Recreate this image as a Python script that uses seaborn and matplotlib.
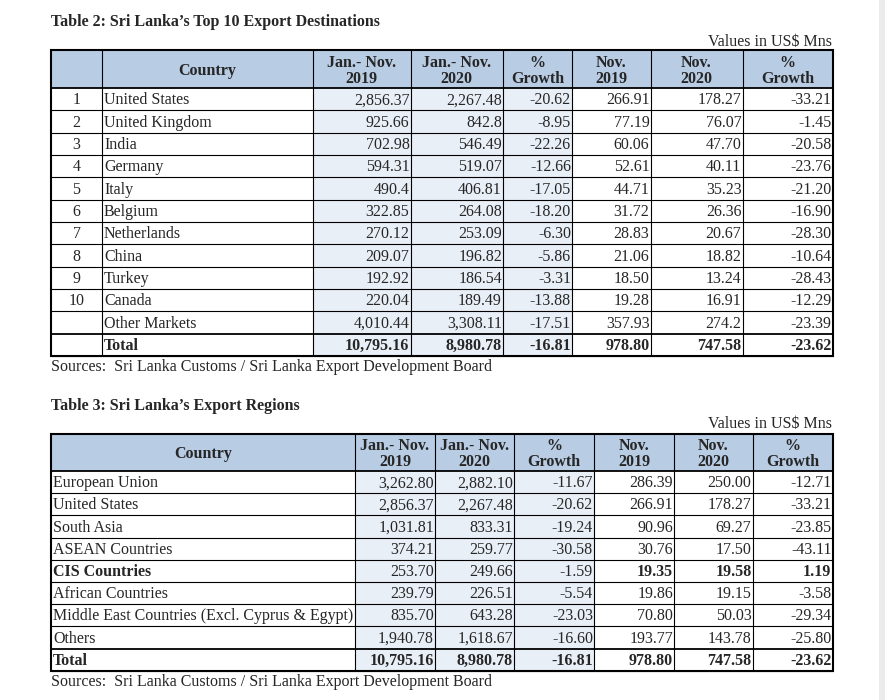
import matplotlib
matplotlib.use("Agg")
import matplotlib.pyplot as plt
from matplotlib.patches import Rectangle
import seaborn as sns

sns.set_theme(style="white")
plt.rcParams['font.family'] = ['Liberation Serif', 'DejaVu Serif']

# ---- Table 2 data
t2_title = "Table 2: Sri Lanka\u2019s Top 10 Export Destinations"
t2_header = ['', 'Country', 'Jan.- Nov.\n2019', 'Jan.- Nov.\n2020', '%\nGrowth',
             'Nov.\n2019', 'Nov.\n2020', '%\nGrowth']
ranks = ['1', '2', '3', '4', '5', '6', '7', '8', '9', '10', '', '']
countries = ['United States', 'United Kingdom', 'India', 'Germany', 'Italy', 'Belgium',
             'Netherlands', 'China', 'Turkey', 'Canada', 'Other Markets', 'Total']
jn19 = ['2,856.37', '925.66', '702.98', '594.31', '490.4', '322.85', '270.12', '209.07',
        '192.92', '220.04', '4,010.44', '10,795.16']
jn20 = ['2,267.48', '842.8', '546.49', '519.07', '406.81', '264.08', '253.09', '196.82',
        '186.54', '189.49', '3,308.11', '8,980.78']
jn_growth = ['-20.62', '-8.95', '-22.26', '-12.66', '-17.05', '-18.20', '-6.30', '-5.86',
             '-3.31', '-13.88', '-17.51', '-16.81']
nov19 = ['266.91', '77.19', '60.06', '52.61', '44.71', '31.72', '28.83', '21.06',
         '18.50', '19.28', '357.93', '978.80']
nov20 = ['178.27', '76.07', '47.70', '40.11', '35.23', '26.36', '20.67', '18.82',
         '13.24', '16.91', '274.2', '747.58']
nov_growth = ['-33.21', '-1.45', '-20.58', '-23.76', '-21.20', '-16.90', '-28.30', '-10.64',
              '-28.43', '-12.29', '-23.39', '-23.62']

# ---- Table 3 data
t3_title = "Table 3: Sri Lanka\u2019s Export Regions"
t3_header = ['Country', 'Jan.- Nov.\n2019', 'Jan.- Nov.\n2020', '%\nGrowth',
             'Nov.\n2019', 'Nov.\n2020', '%\nGrowth']
regions = ['European Union', 'United States', 'South Asia', 'ASEAN Countries', 'CIS Countries',
           'African Countries', 'Middle East Countries (Excl. Cyprus & Egypt)', 'Others', 'Total']
r_jn19 = ['3,262.80', '2,856.37', '1,031.81', '374.21', '253.70', '239.79', '835.70',
          '1,940.78', '10,795.16']
r_jn20 = ['2,882.10', '2,267.48', '833.31', '259.77', '249.66', '226.51', '643.28',
          '1,618.67', '8,980.78']
r_jn_growth = ['-11.67', '-20.62', '-19.24', '-30.58', '-1.59', '-5.54', '-23.03', '-16.60', '-16.81']
r_nov19 = ['286.39', '266.91', '90.96', '30.76', '19.35', '19.86', '70.80', '193.77', '978.80']
r_nov20 = ['250.00', '178.27', '69.27', '17.50', '19.58', '19.15', '50.03', '143.78', '747.58']
r_nov_growth = ['-12.71', '-33.21', '-23.85', '-43.11', '1.19', '-3.58', '-29.34', '-25.80', '-23.62']

unit_note = "Values in US$ Mns"
source_note = "Sources:  Sri Lanka Customs / Sri Lanka Export Development Board"

HEAD_BLUE = '#b8cce4'
LIGHT_BLUE = '#e9eff7'
FS = 11.5


def draw_table(ax, top, head_h, row_h, edges, header, cols, aligns, shaded, bold):
    n = len(cols[0])
    bottom = top + head_h + n * row_h
    left, right = edges[0], edges[-1]
    ax.add_patch(Rectangle((left, top), right - left, head_h, color=HEAD_BLUE, lw=0))
    for c in shaded:
        ax.add_patch(Rectangle((edges[c], top + head_h), edges[c + 1] - edges[c],
                               n * row_h, color=LIGHT_BLUE, lw=0))
    # header text
    for c, h in enumerate(header):
        xc = (edges[c] + edges[c + 1]) / 2
        lines = h.split('\n')
        if len(lines) == 2:
            ax.text(xc, top + head_h * 0.45, lines[0], ha='center', va='baseline',
                    fontsize=FS, fontweight='bold')
            ax.text(xc, top + head_h * 0.88, lines[1], ha='center', va='baseline',
                    fontsize=FS, fontweight='bold')
        elif h:
            ax.text(xc, top + head_h * 0.66, h, ha='center', va='baseline',
                    fontsize=FS, fontweight='bold')
    # body text
    for r in range(n):
        yb = top + head_h + r * row_h + row_h * 0.73
        for c, col in enumerate(cols):
            a = aligns[c]
            if a == 'left':
                x = edges[c] + 2
            elif a == 'right':
                x = edges[c + 1] - 1
            else:
                x = (edges[c] + edges[c + 1]) / 2
            w = 'bold' if (r, c) in bold else 'normal'
            ax.text(x, yb, col[r], ha=a, va='baseline', fontsize=FS, fontweight=w)
    # grid
    for r in range(n + 1):
        y = top + head_h + r * row_h
        lw = 1.3 if r in (0, n - 1) else 0.8
        ax.plot([left, right], [y, y], color='black', lw=lw)
    for e in edges[1:-1]:
        ax.plot([e, e], [top, bottom], color='black', lw=0.8)
    ax.add_patch(Rectangle((left, top), right - left, bottom - top, fill=False,
                           ec='black', lw=1.5))
    return bottom


fig = plt.figure(figsize=(8.85, 7), dpi=100)
ax = fig.add_axes([0, 0, 1, 1])
ax.set_xlim(0, 885)
ax.set_ylim(700, 0)
ax.axis('off')

# thin grey strip at the right edge of the page
ax.add_patch(Rectangle((879, 0), 6, 700, color='#ebebeb', lw=0))

# Table 2
ax.text(51, 26, t2_title, fontsize=FS, fontweight='bold', va='baseline')
ax.text(832, 46, unit_note, fontsize=FS, ha='right', va='baseline')
t2_edges = [51, 102, 313, 410.5, 503, 572, 650.5, 742.5, 832.5]
t2_cols = [ranks, countries, jn19, jn20, jn_growth, nov19, nov20, nov_growth]
t2_align = ['center', 'left'] + ['right'] * 6
t2_bold = {(11, c) for c in range(8)}
b2 = draw_table(ax, 50, 38, 22.33, t2_edges, t2_header, t2_cols, t2_align,
                shaded=[2, 3, 4], bold=t2_bold)
ax.text(51, b2 + 15, source_note, fontsize=FS, va='baseline')

# Table 3
ax.text(51, 410, t3_title, fontsize=FS, fontweight='bold', va='baseline')
ax.text(832, 428, unit_note, fontsize=FS, ha='right', va='baseline')
t3_edges = [51, 355, 435, 514, 594, 674, 752.5, 832.5]
t3_cols = [regions, r_jn19, r_jn20, r_jn_growth, r_nov19, r_nov20, r_nov_growth]
t3_align = ['left'] + ['right'] * 6
t3_bold = {(8, c) for c in range(7)} | {(4, 0), (4, 4), (4, 5), (4, 6)}
b3 = draw_table(ax, 433.5, 37.5, 22.2, t3_edges, t3_header, t3_cols, t3_align,
                shaded=[1, 2, 3], bold=t3_bold)
ax.text(51, b3 + 15, source_note, fontsize=FS, va='baseline')

fig.savefig('out.png', dpi=100)
